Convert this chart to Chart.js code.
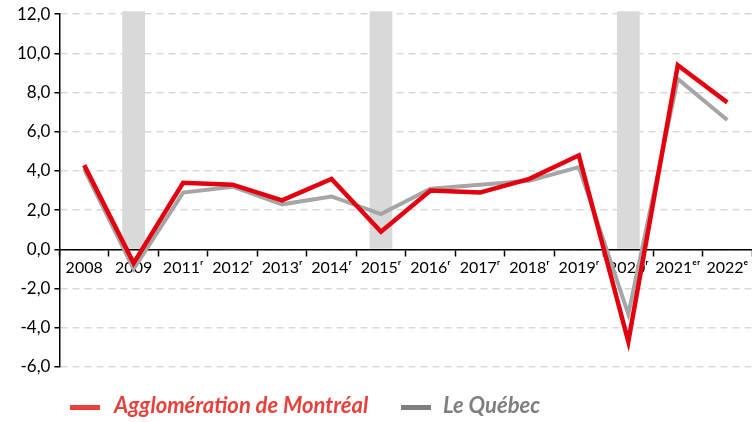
<!DOCTYPE html>
<html>
<head>
<meta charset="utf-8">
<script src="https://cdn.jsdelivr.net/npm/chart.js@4/dist/chart.umd.min.js"></script>
<style>
  html, body { margin: 0; padding: 0; background: #fff; }
  #wrap { position: relative; width: 752px; height: 422px; }
  .leg { position: absolute; top: 391px; font-family: Lato, "Open Sans", sans-serif; font-weight: bold; font-style: italic; font-size: 22px; white-space: nowrap; }
  .leg span.ln { position: absolute; top: 14px; height: 5px; width: 30px; }
</style>
</head>
<body>
<div id="wrap">
  <canvas id="chart" width="752" height="422"></canvas>
  <div class="leg" style="left:70px;color:#e8413c"><span class="ln" style="left:0;background:#e8413c"></span><span style="margin-left:44px">Agglomération de Montréal</span></div>
  <div class="leg" style="left:401px;color:#7f7f7f"><span class="ln" style="left:0;background:#7f7f7f"></span><span style="margin-left:42px">Le Québec</span></div>
</div>
<script>
// categories and series
const years = ['2008', '2009', '2011ʳ', '2012ʳ', '2013ʳ', '2014ʳ', '2015ʳ', '2016ʳ', '2017ʳ', '2018ʳ', '2019ʳ', '2020ʳ', '2021ᵉʳ', '2022ᵉ'];
const montreal = [4.3, -0.7, 3.4, 3.3, 2.5, 3.6, 0.9, 3.0, 2.9, 3.6, 4.8, -4.7, 9.4, 7.5];
const quebec = [4.1, -1.0, 2.9, 3.2, 2.3, 2.7, 1.8, 3.1, 3.3, 3.5, 4.2, -3.3, 8.7, 6.6];
// shaded years (2009, 2015, 2020)
const shaded = [null, 12.15, null, null, null, null, 12.15, null, null, null, null, 12.15, null, null];
const yTicks = [-6, -4, -2, 0, 2, 4, 6, 8, 10, 12];

const fontFam = 'Lato, "Open Sans", sans-serif';

new Chart(document.getElementById('chart').getContext('2d'), {
  type: 'line',
  data: {
    labels: years,
    datasets: [
      {
        type: 'bar',
        data: shaded,
        backgroundColor: '#d9d9d9',
        borderWidth: 0,
        barPercentage: 0.46,
        categoryPercentage: 1,
        clip: false,
        order: 3
      },
      {
        label: 'Le Québec',
        data: quebec,
        borderColor: '#a6a6a6',
        borderWidth: 4,
        pointRadius: 0,
        tension: 0,
        order: 2
      },
      {
        label: 'Agglomération de Montréal',
        data: montreal,
        borderColor: '#e3000f',
        borderWidth: 4.5,
        pointRadius: 0,
        tension: 0,
        order: 1
      }
    ]
  },
  options: {
    responsive: false,
    animation: false,
    layout: { padding: { left: 13, right: 0, top: 10, bottom: 55 } },
    scales: {
      x: {
        type: 'category',
        position: { y: 0 },
        offset: true,
        grid: { offset: true, drawOnChartArea: false, drawTicks: true, tickLength: 6, tickColor: '#000', tickWidth: 1.5 },
        border: { color: '#000', width: 1.5 },
        ticks: { color: '#000', font: { size: 16, family: fontFam }, padding: 3, maxRotation: 0, autoSkip: false }
      },
      y: {
        min: -6,
        max: 12,
        afterBuildTicks: function(axis) {
          axis.ticks = yTicks.map(v => ({ value: v }));
        },
        ticks: {
          color: '#000',
          font: { size: 17, family: fontFam },
          padding: 4,
          callback: v => v.toFixed(1).replace('.', ',')
        },
        grid: { color: '#d9d9d9', lineWidth: 1.5, tickLength: 5, tickColor: '#000', tickWidth: 1.5 },
        border: { color: '#000', width: 1.5, dash: [7, 5] }
      }
    },
    plugins: {
      legend: { display: false },
      tooltip: { enabled: false }
    }
  }
});
</script>
</body>
</html>
